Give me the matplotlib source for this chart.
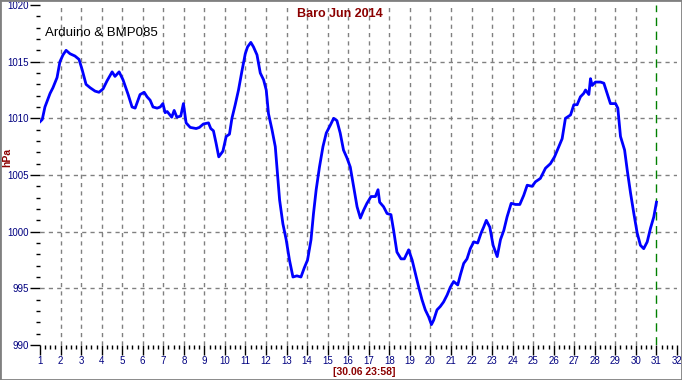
import matplotlib
matplotlib.use("Agg")
import matplotlib.pyplot as plt
from matplotlib.patches import Rectangle

plt.rcParams['font.family'] = ['Liberation Sans', 'DejaVu Sans']

# pressure readings, June 2014 (day of month, hPa)
days = [1.00, 1.11, 1.24, 1.49, 1.63, 1.83, 1.97, 2.12, 2.27, 2.46, 2.70, 2.90,
        3.05, 3.24, 3.44, 3.68, 3.87, 4.07, 4.26, 4.51, 4.65, 4.85, 5.04, 5.29,
        5.48, 5.63, 5.87, 6.07, 6.21, 6.36, 6.50, 6.70, 6.85, 6.98, 7.09, 7.19,
        7.41, 7.53, 7.66, 7.85, 7.98, 8.11, 8.31, 8.60, 8.76, 8.95, 9.20, 9.31,
        9.44, 9.57, 9.70, 9.90, 10.06, 10.22, 10.34, 10.50, 10.66, 10.82, 10.99,
        11.10, 11.26, 11.39, 11.56, 11.72, 11.88, 12.01, 12.12, 12.29, 12.45,
        12.56, 12.66, 12.82, 12.98, 13.14, 13.31, 13.50, 13.70, 13.86, 14.02,
        14.19, 14.31, 14.44, 14.60, 14.77, 14.93, 15.13, 15.29, 15.45, 15.61,
        15.77, 15.94, 16.10, 16.26, 16.43, 16.59, 16.75, 16.91, 17.11, 17.32,
        17.45, 17.53, 17.72, 17.89, 18.08, 18.21, 18.37, 18.57, 18.73, 18.94,
        19.11, 19.27, 19.43, 19.59, 19.75, 19.91, 20.05, 20.16, 20.32, 20.48,
        20.64, 20.81, 20.97, 21.13, 21.33, 21.46, 21.62, 21.78, 21.94, 22.11,
        22.30, 22.47, 22.59, 22.72, 22.89, 23.05, 23.25, 23.41, 23.57, 23.73,
        23.93, 24.14, 24.35, 24.54, 24.71, 24.95, 25.11, 25.35, 25.60, 25.84,
        26.04, 26.25, 26.41, 26.57, 26.82, 26.98, 27.14, 27.30, 27.46, 27.55,
        27.71, 27.79, 27.87, 28.03, 28.28, 28.44, 28.60, 28.76, 29.01, 29.12,
        29.25, 29.45, 29.58, 29.74, 29.90, 30.06, 30.22, 30.38, 30.55, 30.71,
        30.87, 31.00]
hpa = [1009.7, 1009.9, 1011.0, 1012.2, 1012.7, 1013.6, 1015.0, 1015.6, 1016.0,
       1015.7, 1015.5, 1015.2, 1014.3, 1013.0, 1012.7, 1012.4, 1012.3, 1012.6,
       1013.3, 1014.1, 1013.7, 1014.1, 1013.4, 1012.1, 1011.0, 1010.9, 1012.1,
       1012.3, 1011.9, 1011.6, 1011.0, 1010.9, 1011.0, 1011.3, 1010.5, 1010.6,
       1010.1, 1010.7, 1010.1, 1010.2, 1011.3, 1009.6, 1009.2, 1009.1, 1009.2,
       1009.5, 1009.6, 1009.1, 1008.9, 1007.8, 1006.6, 1007.1, 1008.4, 1008.6,
       1010.0, 1011.2, 1012.5, 1014.1, 1015.7, 1016.3, 1016.7, 1016.3, 1015.6,
       1014.0, 1013.4, 1012.5, 1010.4, 1009.0, 1007.5, 1005.1, 1002.8, 1000.7,
       999.3, 997.5, 996.0, 996.1, 996.0, 996.8, 997.5, 999.3, 1001.6, 1003.7,
       1005.7, 1007.5, 1008.7, 1009.4, 1010.0, 1009.8, 1008.7, 1007.2, 1006.5,
       1005.7, 1004.0, 1002.2, 1001.2, 1001.9, 1002.5, 1003.1, 1003.1, 1003.7,
       1002.6, 1002.2, 1001.6, 1001.5, 1000.1, 998.2, 997.6, 997.6, 998.4,
       997.5, 996.3, 995.1, 994.0, 993.1, 992.5, 991.8, 992.2, 993.1, 993.4,
       993.8, 994.4, 995.1, 995.6, 995.3, 996.2, 997.2, 997.6, 998.5, 999.1,
       999.0, 999.9, 1000.4, 1001.0, 1000.4, 998.8, 997.8, 999.3, 1000.1,
       1001.3, 1002.5, 1002.4, 1002.4, 1003.2, 1004.1, 1004.0, 1004.4, 1004.7,
       1005.6, 1006.0, 1006.6, 1007.5, 1008.2, 1010.0, 1010.3, 1011.2, 1011.2,
       1011.9, 1012.2, 1012.5, 1012.1, 1013.5, 1012.9, 1013.2, 1013.2, 1013.1,
       1012.2, 1011.3, 1011.3, 1010.9, 1008.4, 1007.2, 1005.4, 1003.4, 1001.6,
       999.9, 998.8, 998.5, 999.1, 1000.3, 1001.3, 1002.6]

x_ticks = list(range(1, 33))
y_ticks = [990, 995, 1000, 1005, 1010, 1015, 1020]
now_day = 31
title = "Baro Jun 2014"
note = "Arduino & BMP085"
stamp = "[30.06 23:58]"

navy = '#000080'
dred = '#8b0000'

fig = plt.figure(figsize=(6.82, 3.80), dpi=100)
ax = fig.add_axes([40 / 682, 1 - 345 / 380, 637 / 682, 340 / 380])

# dashed grid, skipping the axis limits
ax.vlines(x_ticks[1:-2], 990, 1020, colors='gray', linestyles=(0, (3, 3)), lw=1)
ax.hlines(y_ticks[1:-1], 1, 32, colors='gray', linestyles=(0, (3, 3)), lw=1)
ax.axvline(now_day, color='green', ls=(0, (6, 4)), lw=1)

ax.plot(days, hpa, color='blue', lw=2)

ax.set_xlim(1, 32)
ax.set_ylim(990, 1020)
ax.set_xticks(x_ticks)
ax.set_xticks([d + q / 4 for d in x_ticks[:-1] for q in (1, 2, 3)], minor=True)
ax.set_yticks(y_ticks)
ax.set_yticks([v for v in range(990, 1021) if v % 5], minor=True)
ax.tick_params(which='major', length=7, width=1, color='black', labelsize=7,
               labelcolor=navy, pad=1)
ax.tick_params(which='minor', length=3, width=1, color='black')
for s in ax.spines.values():
    s.set_visible(False)

fig.text(7 / 682, 1 - 157 / 380, 'hPa', color=dred, fontweight='bold',
         fontsize=7.5, rotation=90, ha='center', va='center')
fig.text(340 / 682, 1 - 14 / 380, title, color=dred, fontweight='bold',
         fontsize=9, ha='center', va='center')
fig.text(45 / 682, 1 - 33 / 380, note, color='black', fontsize=9.5,
         ha='left', va='center')
fig.text(364 / 682, 1 - 372 / 380, stamp, color=dred, fontweight='bold',
         fontsize=7.5, ha='center', va='center')

fig.patches.append(Rectangle((0, 0), 1, 1, transform=fig.transFigure,
                             fill=False, edgecolor='#808080', lw=2))

fig.savefig('out.png', dpi=100)
